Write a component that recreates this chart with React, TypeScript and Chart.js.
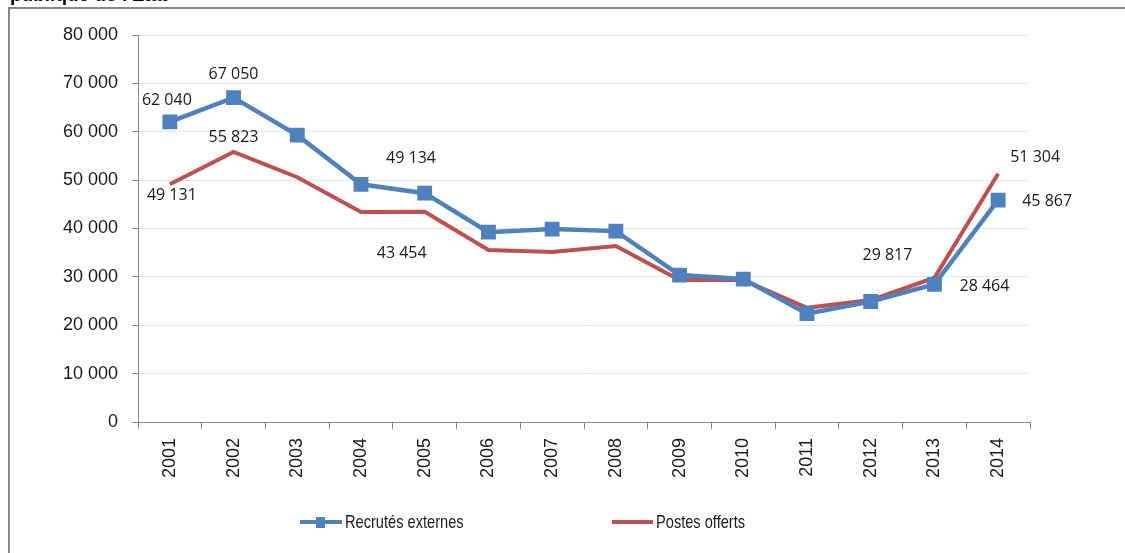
import React, { useEffect, useRef } from "react";
import { Chart, registerables } from "chart.js";

Chart.register(...registerables);

const years = ["2001", "2002", "2003", "2004", "2005", "2006", "2007", "2008", "2009", "2010", "2011", "2012", "2013", "2014"];
const recrutesExternes = [62040, 67050, 59300, 49134, 47300, 39250, 39880, 39460, 30370, 29550, 22400, 24900, 28464, 45867];
const postesOfferts = [49131, 55823, 50600, 43400, 43454, 35540, 35120, 36360, 29340, 29340, 23600, 25200, 29817, 51304];
const recrutesLabelled = [0, 1, 3, 12, 13];
const postesLabelled = [0, 1, 4, 12, 13];
const titleText = "publique de l'Etat";
const yTicks = [0, 10000, 20000, 30000, 40000, 50000, 60000, 70000, 80000];

const fmt = (v: number) => {
  const s = Math.round(v).toString();
  return s.replace(/\B(?=(\d{3})+(?!\d))/g, " ");
};

// label offsets (style): dataset index -> point index -> [dx, dy]
const labelOffsets: Record<number, Record<number, [number, number]>> = {
  0: { 0: [-3, -21], 1: [0, -23], 3: [50, -26], 12: [50, 2], 13: [49, 1] },
  1: { 0: [2, 11], 1: [0, -15], 4: [-23, 42], 12: [-47, -22], 13: [37, -16] },
};

const BLUE = "#4f81bd";
const RED = "#c0504d";

const decorPlugin = {
  id: "decor",
  afterDatasetsDraw(chart: any) {
    const ctx = chart.ctx;
    ctx.save();
    ctx.font = "16px 'Open Sans'";
    ctx.fillStyle = "#1a1a1a";
    ctx.textAlign = "center";
    ctx.textBaseline = "middle";
    const lists = [recrutesLabelled, postesLabelled];
    chart.data.datasets.forEach((ds: any, di: number) => {
      const meta = chart.getDatasetMeta(di);
      lists[di].forEach((i) => {
        const el = meta.data[i];
        const off = labelOffsets[di][i] || [0, -15];
        ctx.fillText(fmt(ds.data[i]), el.x + off[0], el.y + off[1]);
      });
    });
    ctx.restore();
  },
  afterDraw(chart: any) {
    const ctx = chart.ctx;
    ctx.save();
    // frame
    ctx.fillStyle = "#888888";
    ctx.fillRect(8, 7, chart.width - 8, 2);
    ctx.fillRect(8, 7, 2, chart.height - 7);
    // cut-off title
    ctx.fillStyle = "#000";
    ctx.font = "bold 19px 'Liberation Sans'";
    ctx.textAlign = "left";
    ctx.textBaseline = "alphabetic";
    ctx.fillText(titleText, 10, 1);
    // legend
    const ly = 522;
    ctx.lineCap = "butt";
    ctx.lineWidth = 4;
    ctx.strokeStyle = BLUE;
    ctx.beginPath();
    ctx.moveTo(300, ly);
    ctx.lineTo(342, ly);
    ctx.stroke();
    ctx.fillStyle = BLUE;
    ctx.fillRect(316, ly - 5, 9, 11);
    ctx.strokeStyle = RED;
    ctx.beginPath();
    ctx.moveTo(612, ly);
    ctx.lineTo(653, ly);
    ctx.stroke();
    ctx.fillStyle = "#1a1a1a";
    ctx.font = "18.5px 'Liberation Sans'";
    ctx.textBaseline = "middle";
    const sx = 0.79;
    ctx.save();
    ctx.translate(345, ly + 1);
    ctx.scale(sx, 1);
    ctx.fillText(chart.data.datasets[0].label, 0, 0);
    ctx.restore();
    ctx.save();
    ctx.translate(656, ly + 1);
    ctx.scale(sx, 1);
    ctx.fillText(chart.data.datasets[1].label, 0, 0);
    ctx.restore();
    ctx.restore();
  },
};

export default function App() {
  const ref = useRef<HTMLCanvasElement | null>(null);
  useEffect(() => {
    if (!ref.current) return;
    const chart = new Chart(ref.current, {
      type: "line",
      data: {
        labels: years,
        datasets: [
          {
            label: "Recrutés externes",
            data: recrutesExternes,
            borderColor: BLUE,
            backgroundColor: BLUE,
            borderWidth: 4.5,
            pointStyle: "rect",
            pointRadius: 10.5,
            pointBorderWidth: 0,
            pointBackgroundColor: BLUE,
            tension: 0,
          },
          {
            label: "Postes offerts",
            data: postesOfferts,
            borderColor: RED,
            backgroundColor: RED,
            borderWidth: 4,
            pointRadius: 0,
            tension: 0,
          },
        ],
      },
      options: {
        animation: false,
        responsive: false,
        devicePixelRatio: 1,
        layout: { padding: { left: 0, right: 95, top: 35, bottom: 0 } },
        plugins: {
          legend: { display: false },
          tooltip: { enabled: false },
          title: { display: false },
        },
        scales: {
          x: {
            offset: true,
            grid: {
              offset: true,
              drawOnChartArea: false,
              drawTicks: true,
              tickLength: 7,
              tickColor: "#898989",
              color: "#898989",
            },
            border: { color: "#898989", width: 1 },
            ticks: {
              minRotation: 90,
              maxRotation: 90,
              padding: 9,
              color: "#1a1a1a",
              font: { family: "'Liberation Sans'", size: 18 },
            },
            afterFit(scale: any) {
              scale.height = 131;
            },
          },
          y: {
            min: 0,
            max: 80000,
            afterBuildTicks(scale: any) {
              scale.ticks = yTicks.map((v) => ({ value: v }));
            },
            grid: {
              color: "#dce6f2",
              tickColor: "#898989",
              tickLength: 6,
              lineWidth: 1,
            },
            border: { color: "#898989", width: 1 },
            ticks: {
              padding: 14,
              color: "#1a1a1a",
              font: { family: "'Liberation Sans'", size: 18 },
              callback: (v: any) => fmt(Number(v)),
            },
            afterFit(scale: any) {
              scale.width = 138;
            },
          },
        },
      },
      plugins: [decorPlugin],
    });
    return () => chart.destroy();
  }, []);
  return (
    <div style={{ position: "fixed", left: 0, top: 0, width: 1125, height: 553, background: "#fff" }}>
      <canvas ref={ref} width={1125} height={553} style={{ display: "block", width: 1125, height: 553 }} />
    </div>
  );
}
